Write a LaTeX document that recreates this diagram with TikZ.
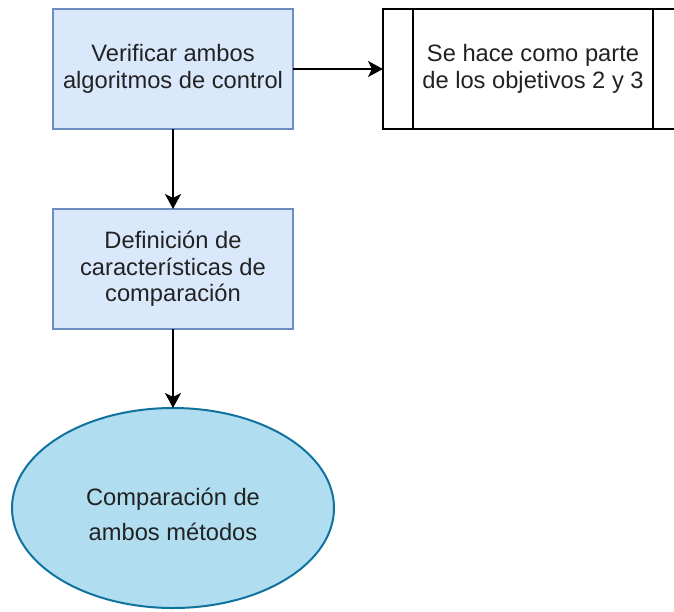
\documentclass[tikz,border=0pt]{standalone}
\usepackage{fontspec}
\setmainfont{Liberation Sans}
\usetikzlibrary{shapes.geometric,arrows.meta}
\definecolor{bfill}{HTML}{DAE8FC}
\definecolor{bline}{HTML}{6C8EBF}
\definecolor{efill}{HTML}{B1DDF0}
\definecolor{eline}{HTML}{10739E}
\definecolor{txt}{HTML}{222222}
\tikzset{
  bluebox/.style={draw=bline, fill=bfill, line width=2pt, minimum width=240pt, minimum height=120pt, inner sep=2pt, outer sep=0pt, align=center, text=txt, font=\fontsize{23.7pt}{26.5pt}\selectfont},
  procbox/.style={draw=black, fill=white, line width=2pt, minimum width=300pt, minimum height=120pt, inner sep=2pt, outer sep=0pt, align=center, text=txt, font=\fontsize{23.7pt}{26.5pt}\selectfont},
  endell/.style={ellipse, draw=eline, fill=efill, line width=2pt, minimum width=322pt, minimum height=200pt, inner sep=0pt, outer sep=0pt},
  elltext/.style={align=center, text=txt, inner sep=0pt, font=\fontsize{23.7pt}{35pt}\selectfont},
  conn/.style={line width=2pt, draw=black, -{Stealth[length=15pt,width=16pt,inset=4pt]}}
}
\begin{document}
\begin{tikzpicture}[x=1pt,y=-1pt]
\clip (0,0) rectangle (674,611);
\node[bluebox] (a) at (173,69) {Verificar ambos\\algoritmos de control};
\node[procbox] (p) at (533,69) {Se hace como parte\\de los objetivos 2 y 3};
\draw[line width=2pt] ([xshift=30pt]p.north west) -- ([xshift=30pt]p.south west);
\draw[line width=2pt] ([xshift=-30pt]p.north east) -- ([xshift=-30pt]p.south east);
\node[bluebox] (b) at (173,269) {Definición de\\características de\\comparación};
\node[endell] (c) at (173,508) {};
\node[elltext] (ct) at (173,514) {Comparación de\\ambos métodos};
\draw[conn] (a) -- (p);
\draw[conn] (a) -- (b);
\draw[conn] (b) -- (c);
\end{tikzpicture}
\end{document}
